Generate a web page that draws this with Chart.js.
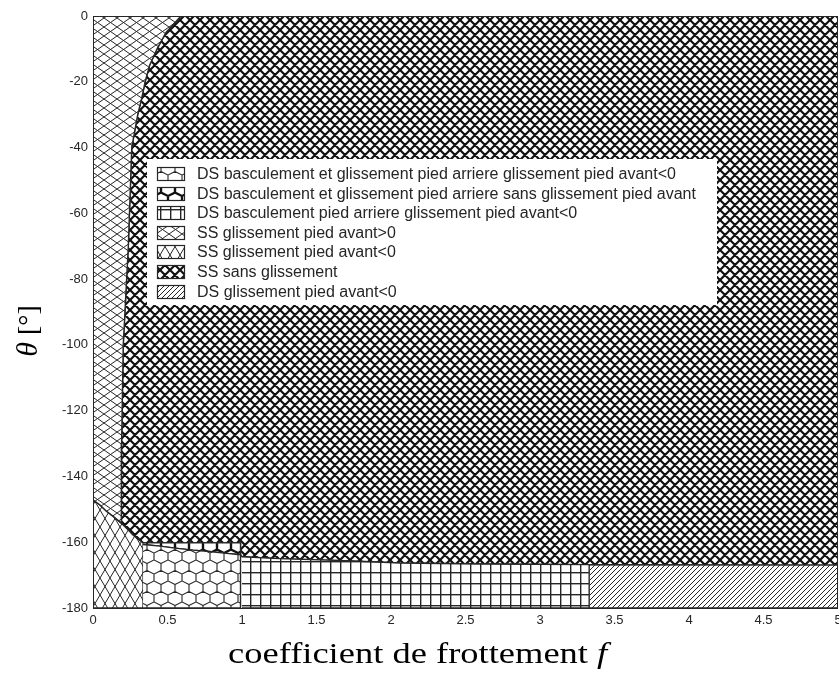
<!DOCTYPE html>
<html>
<head>
<meta charset="utf-8">
<script src="https://cdn.jsdelivr.net/npm/chart.js@4.4.1/dist/chart.umd.min.js"></script>
<style>
  html, body { margin: 0; padding: 0; background: #ffffff; }
  #wrap { width: 839px; height: 675px; position: relative; }
</style>
</head>
<body>
<div id="wrap"><canvas id="c"></canvas></div>
<script>
// ---------------- data ----------------
const regionNames = [
  'DS basculement et glissement pied arriere glissement pied avant<0',
  'DS basculement et glissement pied arriere sans glissement pied avant',
  'DS basculement pied arriere glissement pied avant<0',
  'SS glissement pied avant>0',
  'SS glissement pied avant<0',
  'SS sans glissement',
  'DS glissement pied avant<0'
];

// boundary between "SS glissement pied avant>0" and "SS sans glissement"
const slipLimitF     = [0.59, 0.49, 0.43, 0.38, 0.35, 0.327, 0.30, 0.26, 0.237, 0.203, 0.192, 0.19];
const slipLimitTheta = [0, -5, -10, -15, -20, -25, -30, -40, -70, -100, -130, -154.2];

// lower curve (top of "SS glissement pied avant<0")
const lowerF     = [0, 0.045, 0.089, 0.14, 0.19, 0.23, 0.268, 0.30, 0.336];
const lowerTheta = [-147.1, -148.6, -150.5, -152.3, -154.2, -156.0, -157.8, -159.0, -160.2];

// split between the two hexagon regions
const hexSplitF     = [0.336, 0.45, 0.55, 0.67, 0.78, 0.88, 0.99];
const hexSplitTheta = [-160.7, -161.2, -161.8, -162.4, -162.8, -163.3, -163.8];

// top of "DS basculement pied arriere glissement pied avant<0"
const gridTopF     = [1.0, 1.25, 1.68, 2.06, 2.6, 3.33];
const gridTopTheta = [-164.4, -165.0, -165.6, -166.3, -166.6, -166.8];

// other limits
const fLimits     = [0, 0.336, 0.99, 1.0, 3.33, 5];     // f breakpoints
const thetaLimits = [0, -160.2, -166.9, -180];          // top, hex top, DS glissement top, bottom

const xTicks = [0, 0.5, 1, 1.5, 2, 2.5, 3, 3.5, 4, 4.5, 5];
const yTicks = [0, -20, -40, -60, -80, -100, -120, -140, -160, -180];

// ---------------- build polygons from the arrays ----------------
const pts = (fs, ts) => fs.map((f, i) => ({ x: f, y: ts[i] }));
const rev = a => a.slice().reverse();
const [fZero, fHexL, fHexR, fGridL, fGridR, fMax] = fLimits;
const [tTop, tHexTop, tDiagTop, tBot] = thetaLimits;

const polyHexThin = [
  ...pts(hexSplitF, hexSplitTheta),
  { x: fHexR, y: tBot }, { x: fHexL, y: tBot }
];
const polyHexThick = [
  { x: fHexL, y: tHexTop }, { x: fHexR, y: tHexTop },
  ...rev(pts(hexSplitF, hexSplitTheta))
];
const polyGrid = [
  ...pts(gridTopF, gridTopTheta),
  { x: fGridR, y: tBot }, { x: fGridL, y: tBot }
];
const polySSpos = [
  { x: fZero, y: tTop },
  ...pts(slipLimitF, slipLimitTheta),
  ...rev(pts(lowerF, lowerTheta)).slice(1).filter(p => p.x < 0.19)
];
const polySSneg = [
  ...pts(lowerF, lowerTheta),
  { x: fHexL, y: tBot }, { x: fZero, y: tBot }
];
const polySSnone = [
  { x: slipLimitF[0], y: tTop }, { x: fMax, y: tTop }, { x: fMax, y: tDiagTop },
  ...rev(pts(gridTopF, gridTopTheta)),
  { x: fHexR, y: hexSplitTheta[hexSplitTheta.length - 1] },
  { x: fHexR, y: tHexTop },
  ...rev(pts(lowerF, lowerTheta)).filter(p => p.x >= 0.19),
  ...rev(pts(slipLimitF, slipLimitTheta))
];
const polyDiag = [
  { x: fGridR, y: tDiagTop }, { x: fMax, y: tDiagTop },
  { x: fMax, y: tBot }, { x: fGridR, y: tBot }
];

// ---------------- patterns ----------------
function tile(w, h, paint) {
  const c = document.createElement('canvas');
  c.width = w; c.height = h;
  const g = c.getContext('2d');
  g.fillStyle = '#ffffff'; g.fillRect(0, 0, w, h);
  paint(g, w, h);
  return g.createPattern(c, 'repeat');
}
function diamonds(w, h, lw, col) {
  return tile(w, h, (g) => {
    g.strokeStyle = col; g.lineWidth = lw; g.beginPath();
    for (let k = -1; k <= 1; k++) {
      g.moveTo(k * w, 0); g.lineTo(k * w + w, h);
      g.moveTo(k * w + w, 0); g.lineTo(k * w, h);
    }
    g.stroke();
  });
}
function hatch(w, lw, col) {
  return tile(w, w, (g) => {
    g.strokeStyle = col; g.lineWidth = lw; g.beginPath();
    for (let k = -1; k <= 1; k++) { g.moveTo(k * w, w); g.lineTo(k * w + w, 0); }
    g.stroke();
  });
}
function grid(w, h, lw, col) {
  return tile(w, h, (g) => {
    g.fillStyle = col;
    g.fillRect(0, 0, lw, h);
    g.fillRect(0, 0, w, lw);
  });
}
// pointy-top honeycomb: W = spacing inside a row, r = vertex radius (rows are 1.5 r apart)
function hexes(W, r, lw, col) {
  const H = Math.round(3 * r);
  return tile(W, H, (g) => {
    g.strokeStyle = col; g.lineWidth = lw; g.beginPath();
    const hex = (cx, cy) => {
      g.moveTo(cx, cy - r);
      g.lineTo(cx + W / 2, cy - r / 2); g.lineTo(cx + W / 2, cy + r / 2);
      g.lineTo(cx, cy + r);
      g.lineTo(cx - W / 2, cy + r / 2); g.lineTo(cx - W / 2, cy - r / 2);
      g.closePath();
    };
    for (let i = -1; i <= 1; i++) for (let j = -1; j <= 1; j++) {
      hex(i * W, j * H); hex(i * W + W / 2, j * H + H / 2);
    }
    g.stroke();
  });
}

const ink = '#262626';
const patterns = [
  hexes(14, 7, 1.1, ink),          // DS basc. + gliss. arriere, gliss avant<0
  hexes(14, 7, 2.4, '#111111'),    // DS basc. + gliss. arriere, sans gliss avant
  grid(10, 11, 1.4, ink),          // DS basculement pied arriere
  diamonds(13, 9, 1, ink),         // SS glissement avant>0
  diamonds(10, 17, 1, ink),        // SS glissement avant<0
  diamonds(10, 10, 2.2, '#111111'),// SS sans glissement
  hatch(5, 1, ink)                 // DS glissement avant<0
];
const polygons = [polyHexThin, polyHexThick, polyGrid, polySSpos, polySSneg, polySSnone, polyDiag];

const datasets = regionNames.map((name, i) => ({
  label: name,
  data: polygons[i],
  showLine: true,
  fill: 'shape',
  backgroundColor: patterns[i],
  borderColor: ink,
  borderWidth: 1.4,
  pointRadius: 0,
  pointHoverRadius: 0,
  tension: 0
}));

// ---------------- plugins ----------------
const framePlugin = {
  id: 'frame',
  afterDatasetsDraw(chart) {
    const { ctx, chartArea: a } = chart;
    ctx.save();
    ctx.strokeStyle = ink; ctx.lineWidth = 1;
    ctx.strokeRect(Math.round(a.left) + 0.5, Math.round(a.top) + 0.5,
                   Math.round(a.right - a.left) - 1, Math.round(a.bottom - a.top));
    ctx.restore();
  }
};

const legendPlugin = {
  id: 'patternLegend',
  afterDraw(chart) {
    const ctx = chart.ctx;
    ctx.save();
    ctx.fillStyle = '#ffffff';
    ctx.fillRect(147, 159, 570, 146);
    chart.data.datasets.forEach((ds, i) => {
      const cy = 174 + i * 19.6;
      const top = Math.round(cy - 7);
      ctx.fillStyle = ds.backgroundColor;
      ctx.fillRect(157, top, 28, 13);
      ctx.strokeStyle = ink; ctx.lineWidth = 1.2;
      ctx.strokeRect(157.5, top + 0.5, 27, 13);
      ctx.fillStyle = ink;
      ctx.font = '16px "Liberation Sans", Arial, sans-serif';
      ctx.textBaseline = 'middle';
      ctx.textAlign = 'left';
      ctx.fillText(ds.label, 197, cy + 0.5);
    });
    ctx.restore();
  }
};

const titlesPlugin = {
  id: 'axisTitles',
  afterDraw(chart) {
    const ctx = chart.ctx;
    ctx.save();
    ctx.fillStyle = '#000000';
    ctx.textBaseline = 'alphabetic';
    // x title
    const main = 'coefficient de frottement ';
    ctx.font = '29px "Liberation Serif", "Times New Roman", serif';
    const wMain = ctx.measureText('coefficient de frottement').width;
    const sx = 360 / wMain;
    ctx.save();
    ctx.translate(228, 663);
    ctx.scale(sx, 1);
    ctx.fillText(main, 0, 0);
    const wm = ctx.measureText(main).width;
    ctx.font = 'italic 29px "Liberation Serif", "Times New Roman", serif';
    ctx.fillText('f', wm, 0);
    ctx.restore();
    // y title
    ctx.save();
    ctx.translate(37, 331);
    ctx.rotate(-Math.PI / 2);
    ctx.font = 'italic 30px "Liberation Serif", "Times New Roman", serif';
    const th = 'θ';
    const wth = ctx.measureText(th).width;
    ctx.font = '28px "Liberation Serif", "Times New Roman", serif';
    const br = ' [°]';
    const wbr = ctx.measureText(br).width;
    const x0 = -(wth + wbr) / 2;
    ctx.font = 'italic 30px "Liberation Serif", "Times New Roman", serif';
    ctx.fillText(th, x0, 0);
    ctx.font = '28px "Liberation Serif", "Times New Roman", serif';
    ctx.fillText(br, x0 + wth, 0);
    ctx.restore();
    ctx.restore();
  }
};

// ---------------- chart ----------------
const tickFont = { family: '"Liberation Sans", Arial, sans-serif', size: 13 };
new Chart(document.getElementById('c'), {
  type: 'scatter',
  data: { datasets },
  options: {
    responsive: true,
    maintainAspectRatio: false,
    animation: false,
    devicePixelRatio: 1,
    layout: { padding: { top: 16, right: 1, left: 0, bottom: 0 } },
    plugins: {
      legend: { display: false },
      tooltip: { enabled: false },
      filler: { propagate: false }
    },
    elements: { line: { tension: 0 } },
    scales: {
      x: {
        type: 'linear', min: 0, max: 5,
        afterFit: s => { s.height = 67; s.paddingRight = 0; s.paddingLeft = 0; },
        afterBuildTicks: s => { s.ticks = xTicks.map(v => ({ value: v })); },
        grid: { display: false, drawTicks: false },
        border: { display: false },
        ticks: { color: ink, font: tickFont, padding: 5, maxRotation: 0, autoSkip: false,
                 callback: v => String(v) }
      },
      y: {
        type: 'linear', min: -180, max: 0,
        afterFit: s => { s.width = 93; },
        afterBuildTicks: s => { s.ticks = yTicks.map(v => ({ value: v })); },
        grid: { display: false, drawTicks: false },
        border: { display: false },
        ticks: { color: ink, font: tickFont, padding: 5, autoSkip: false,
                 callback: v => String(v) }
      }
    }
  },
  plugins: [framePlugin, legendPlugin, titlesPlugin]
});
</script>
</body>
</html>
